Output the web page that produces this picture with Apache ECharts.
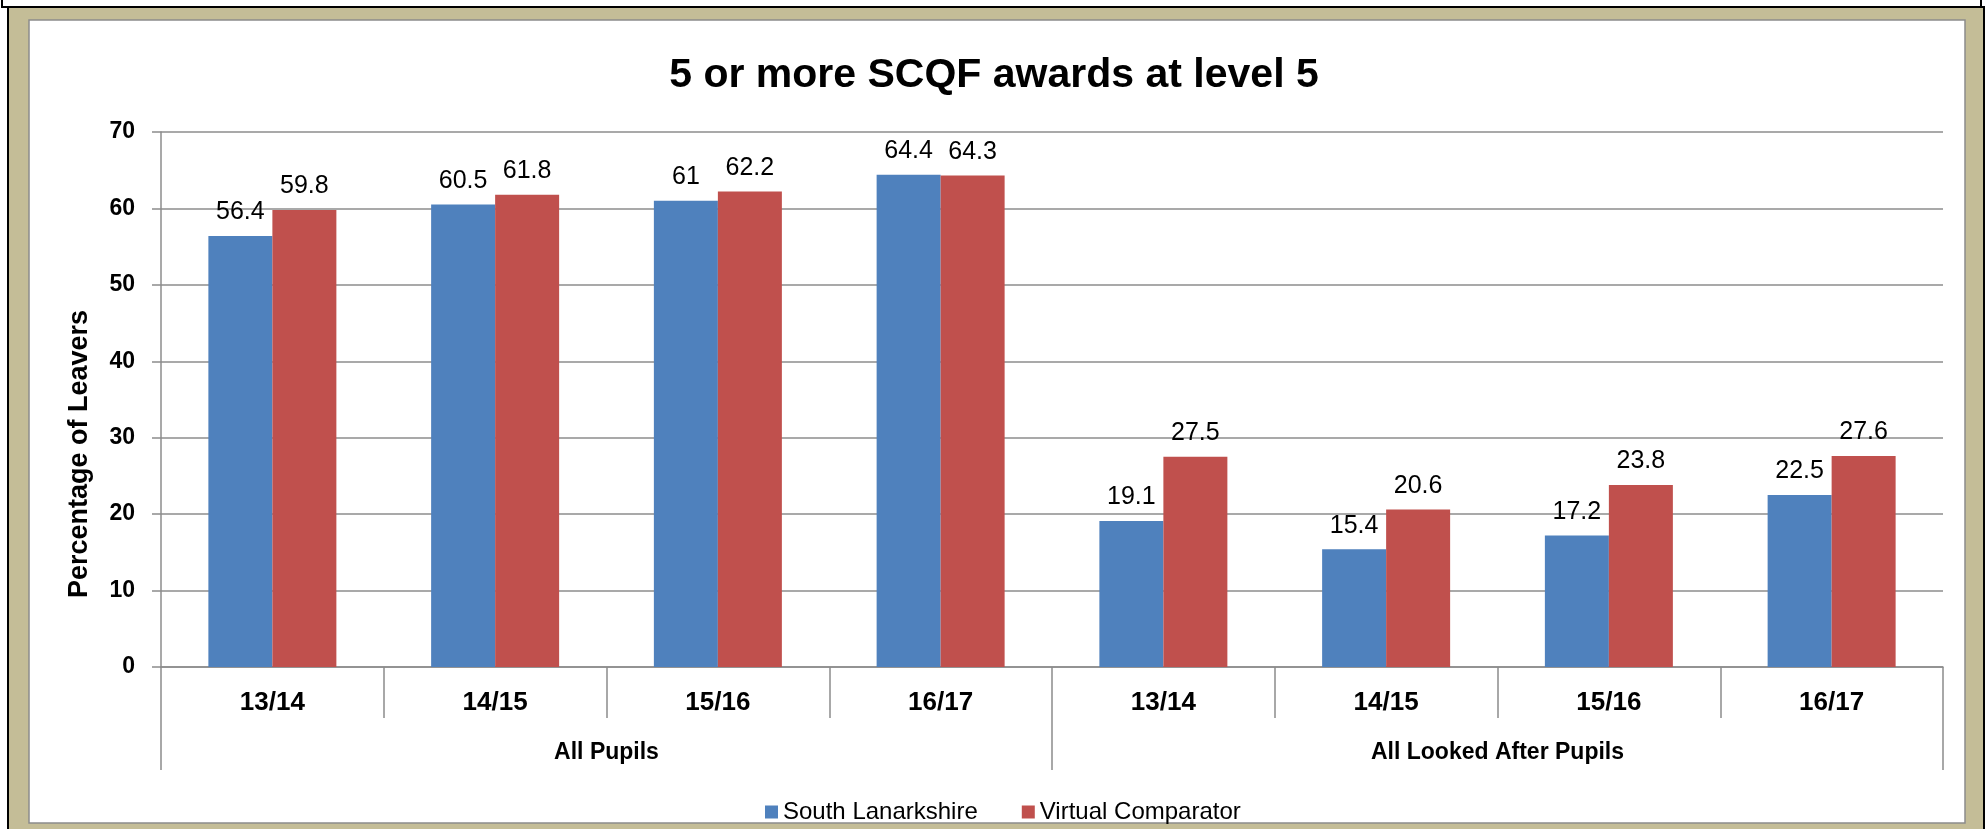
<!DOCTYPE html>
<html>
<head>
<meta charset="utf-8">
<title>5 or more SCQF awards at level 5</title>
<script src="https://cdn.jsdelivr.net/npm/echarts@6/dist/echarts.min.js"></script>
<style>
  html, body { margin: 0; padding: 0; background: #fff; }
  #main { width: 1988px; height: 829px; }
</style>
</head>
<body>
<div id="main"></div>
<script>
// data
var years = ['13/14', '14/15', '15/16', '16/17', '13/14', '14/15', '15/16', '16/17'];
var groups = ['All Pupils', 'All Looked After Pupils'];
var southLanarkshire = [56.4, 60.5, 61, 64.4, 19.1, 15.4, 17.2, 22.5];
var virtualComparator = [59.8, 61.8, 62.2, 64.3, 27.5, 20.6, 23.8, 27.6];

var FONT = '"Liberation Sans", Arial, sans-serif';
var AXIS_GREY = '#8c8c8c';

var chart = echarts.init(document.getElementById('main'));

function barSeries(name, values, color) {
    return {
        name: name,
        type: 'bar',
        xAxisIndex: 0,
        barWidth: 64,
        barGap: '0%',
        itemStyle: { color: color },
        label: {
            show: true,
            position: 'top',
            distance: 11,
            color: '#000',
            fontFamily: FONT,
            fontSize: 25
        },
        data: values
    };
}

chart.setOption({
    animation: false,
    textStyle: { fontFamily: FONT },
    title: {
        text: '5 or more SCQF awards at level 5',
        left: 'center',
        top: 50,
        textStyle: { fontFamily: FONT, fontSize: 41, fontWeight: 'bold', color: '#000' }
    },
    // frame round the chart (tan border like the office chart)
    graphic: [
        { type: 'rect', z: -10, shape: { x: 2, y: -6, width: 1979, height: 13 },
          style: { fill: '#fff', stroke: '#000', lineWidth: 2 } },
        { type: 'rect', z: -10, shape: { x: 8, y: 7, width: 1976, height: 840 },
          style: { fill: '#C4BD97', stroke: '#000', lineWidth: 2 } },
        { type: 'rect', z: -9, shape: { x: 29, y: 20, width: 1936, height: 803 },
          style: { fill: '#fff', stroke: '#8c8c8c', lineWidth: 1.5 } },
        { type: 'text', x: 80, y: 454, rotation: Math.PI / 2,
          style: { text: 'Percentage of Leavers', fontFamily: FONT, fontSize: 27, fontWeight: 'bold',
                   fill: '#000', align: 'center', verticalAlign: 'middle' } }
    ],
    legend: {
        left: 760,
        top: 795,
        itemWidth: 13,
        itemHeight: 13,
        itemGap: 44,
        icon: 'rect',
        textStyle: { fontFamily: FONT, fontSize: 24, color: '#000' },
        data: ['South Lanarkshire', 'Virtual Comparator']
    },
    grid: { left: 161, right: 45, top: 132, bottom: 162 },
    xAxis: [
        {
            type: 'category',
            data: years,
            position: 'bottom',
            axisLine: { show: true, lineStyle: { color: AXIS_GREY, width: 1.5 } },
            axisTick: { show: true, alignWithLabel: false, length: 51, lineStyle: { color: AXIS_GREY, width: 1.5 } },
            axisLabel: { margin: 23, fontFamily: FONT, fontSize: 26, fontWeight: 'bold', color: '#000', interval: 0 }
        },
        {
            type: 'category',
            data: groups,
            position: 'bottom',
            axisLine: { show: false },
            axisTick: { show: true, alignWithLabel: false, length: 103, lineStyle: { color: AXIS_GREY, width: 1.5 } },
            axisLabel: { margin: 74, fontFamily: FONT, fontSize: 23, fontWeight: 'bold', color: '#000', interval: 0 }
        }
    ],
    yAxis: {
        type: 'value',
        min: 0,
        max: 70,
        interval: 10,
        axisLine: { show: true, lineStyle: { color: AXIS_GREY, width: 1.5 } },
        axisTick: { show: true, length: 9, lineStyle: { color: AXIS_GREY, width: 1.5 } },
        axisLabel: { margin: 26, fontFamily: FONT, fontSize: 23, fontWeight: 'bold', color: '#000' },
        splitLine: { show: true, lineStyle: { color: AXIS_GREY, width: 1.5 } }
    },
    series: [
        barSeries('South Lanarkshire', southLanarkshire, '#4F81BD'),
        barSeries('Virtual Comparator', virtualComparator, '#C0504D')
    ]
});
</script>
</body>
</html>
